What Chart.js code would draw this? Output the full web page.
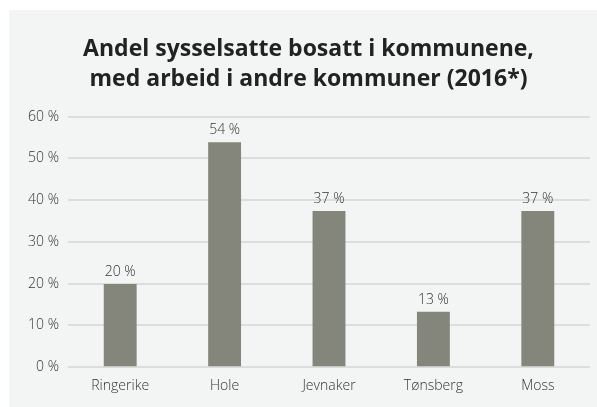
<!DOCTYPE html>
<html>
<head>
<meta charset="utf-8">
<script src="https://cdn.jsdelivr.net/npm/chart.js@4"></script>
<style>
  body { margin: 0; background: #fff; }
  #panel { position: absolute; left: 9px; top: 10px; width: 588px; height: 397px; background: #f3f4f4; }
</style>
</head>
<body>
<div id="panel"><canvas id="grafico" width="588" height="397"></canvas></div>
<script>
// Data
const kommuner = ["Ringerike", "Hole", "Jevnaker", "Tønsberg", "Moss"];
const andel = [19.9, 53.9, 37.4, 13.3, 37.4];
const etiketter = ["20 %", "54 %", "37 %", "13 %", "37 %"];
const tittel = ["Andel sysselsatte bosatt i kommunene,", "med arbeid i andre kommuner (2016*)"];

const ctx = document.getElementById("grafico");

// Small plugin that writes the value above each bar
const verdiEtiketter = {
  id: "verdiEtiketter",
  afterDatasetsDraw(chart) {
    const c = chart.ctx;
    const meta = chart.getDatasetMeta(0);
    c.save();
    c.font = "300 14px 'Open Sans'";
    c.fillStyle = "#333";
    c.textAlign = "center";
    c.textBaseline = "alphabetic";
    meta.data.forEach((bar, i) => {
      c.fillText(etiketter[i], bar.x, bar.y - 8);
    });
    c.restore();
  },
};

new Chart(ctx, {
  type: "bar",
  data: {
    labels: kommuner,
    datasets: [
      {
        data: andel,
        backgroundColor: "#84867b",
        barPercentage: 0.63,
        categoryPercentage: 0.5,
      },
    ],
  },
  options: {
    responsive: false,
    animation: false,
    layout: { padding: { top: 24, right: 7, bottom: 11, left: 18 } },
    plugins: {
      legend: { display: false },
      tooltip: { enabled: false },
      title: {
        display: true,
        text: tittel,
        color: "#222",
        font: { family: "'Open Sans'", size: 23, weight: "bold", lineHeight: 1.32 },
        padding: { top: 0, bottom: 22 },
      },
    },
    scales: {
      x: {
        grid: { display: false },
        border: { display: false },
        ticks: { color: "#333", font: { family: "'Open Sans'", size: 14, weight: 300 }, padding: 2 },
      },
      y: {
        min: 0,
        max: 60,
        afterFit(scale) { scale.width = 41; },
        border: { display: false },
        grid: { color: "#dcdddd", lineWidth: 2, drawTicks: false },
        ticks: {
          stepSize: 10,
          padding: 9,
          color: "#333",
          font: { family: "'Open Sans'", size: 14, weight: 300 },
          callback: (v) => v + " %",
        },
      },
    },
  },
  plugins: [verdiEtiketter],
});
</script>
</body>
</html>
